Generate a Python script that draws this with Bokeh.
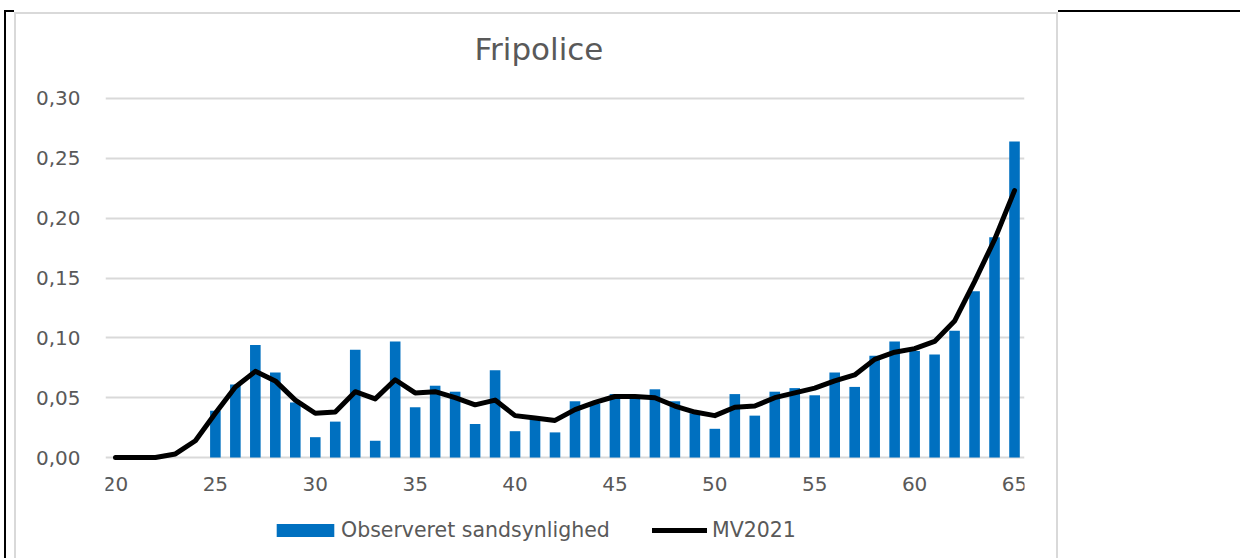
from bokeh.plotting import figure
from bokeh.models import (ColumnDataSource, FixedTicker, CustomJSTickFormatter, Legend,
                          LegendItem, InlineStyleSheet)
from bokeh.embed import file_html
from bokeh.resources import INLINE

# ---- data ----
ages = list(range(20, 66))
observed = [0, 0, 0, 0, 0,
            0.039, 0.061, 0.094, 0.071, 0.046,
            0.017, 0.030, 0.090, 0.014, 0.097,
            0.042, 0.060, 0.055, 0.028, 0.073,
            0.022, 0.032, 0.021, 0.047, 0.045,
            0.053, 0.050, 0.057, 0.047, 0.037,
            0.024, 0.053, 0.035, 0.055, 0.058,
            0.052, 0.071, 0.059, 0.085, 0.097,
            0.089, 0.086, 0.106, 0.139, 0.184,
            0.264]
mv2021 = [0, 0, 0, 0.003, 0.014,
          0.037, 0.059, 0.072, 0.064, 0.048,
          0.037, 0.038, 0.055, 0.049, 0.065,
          0.054, 0.055, 0.050, 0.044, 0.048,
          0.035, 0.033, 0.031, 0.040, 0.046,
          0.051, 0.051, 0.050, 0.043, 0.038,
          0.035, 0.042, 0.043, 0.050, 0.054,
          0.058, 0.064, 0.069, 0.082, 0.088,
          0.091, 0.097, 0.114, 0.147, 0.182,
          0.223]
x_ticks = [20, 25, 30, 35, 40, 45, 50, 55, 60, 65]
y_ticks = [0.0, 0.05, 0.10, 0.15, 0.20, 0.25, 0.30]
title_text = "Fripolice"
series_names = ["Observeret sandsynlighed", "MV2021"]

FONT = "DejaVu Sans"
TXT = "#595959"
BLUE = "#0070C0"

src = ColumnDataSource(dict(age=ages, obs=observed, mv=mv2021))

frame_css = InlineStyleSheet(css="""
:host::before {
  content: ""; position: absolute; left: 4px; top: 10px; right: -20px; bottom: -20px;
  border-left: 2px solid black; border-top: 2px solid black;
  pointer-events: none; z-index: 5;
}
:host::after {
  content: ""; position: absolute; left: 14px; top: 11.5px; width: 1040px; bottom: -20px;
  border: 2.5px solid #d9d9d9; border-bottom: none; box-shadow: 0 -2px 0 0 white;
  pointer-events: none; z-index: 6;
}
""")

# frame runs from y=92 down to y=570 (below the visible window) so the legend sits inside it
p = figure(width=1240, height=640, x_range=(19.5, 65.5), y_range=(-0.0944, 0.305),
           output_backend="svg", toolbar_location=None,
           min_border_left=105, min_border_right=216, min_border_top=92, min_border_bottom=70)
p.stylesheets = [frame_css]
p.outline_line_color = None
p.background_fill_color = "white"
p.border_fill_color = "white"

bars = p.vbar(x="age", top="obs", width=0.53, source=src, fill_color=BLUE, line_color=None)
ln = p.line(x="age", y="mv", source=src, line_color="black", line_width=5,
            line_join="round", line_cap="round")

# axes
for ax in (p.xaxis[0], p.yaxis[0]):
    ax.axis_line_color = None
    ax.major_tick_line_color = None
    ax.minor_tick_line_color = None
    ax.major_label_text_font = FONT
    ax.major_label_text_font_size = "20px"
    ax.major_label_text_color = TXT
p.xaxis.ticker = FixedTicker(ticks=x_ticks)
p.xaxis.fixed_location = 0
p.yaxis.ticker = FixedTicker(ticks=y_ticks)
p.yaxis.formatter = CustomJSTickFormatter(code="return tick.toFixed(2).replace('.', ',');")
p.yaxis.major_label_standoff = 19
p.xaxis.major_label_standoff = 13
p.xgrid.visible = False
p.ygrid.ticker = FixedTicker(ticks=y_ticks)
p.ygrid.grid_line_color = "#d9d9d9"
p.ygrid.grid_line_width = 2

# title
p.title.text = title_text
p.title.align = "left"
p.title.offset = 369
p.title.standoff = 52
p.title.text_font = FONT
p.title.text_font_size = "31px"
p.title.text_font_style = "normal"
p.title.text_color = TXT

# legends (two, placed independently)
def mk_legend(item, loc, gw, gh, standoff):
    lg = Legend(items=[item], location=loc, orientation="horizontal",
                glyph_width=gw, glyph_height=gh, label_standoff=standoff,
                padding=0, margin=0, spacing=0, border_line_color=None,
                background_fill_alpha=0, label_text_font=FONT,
                label_text_font_size="20.5px", label_text_color=TXT, label_height=16)
    p.add_layout(lg, "center")

mk_legend(LegendItem(label=series_names[0], renderers=[bars]), (164, 28), 72, 16, 0)
mk_legend(LegendItem(label=series_names[1], renderers=[ln]), (547, 28), 55, 16, 5)

open("out.html", "w").write(file_html(p, INLINE))
